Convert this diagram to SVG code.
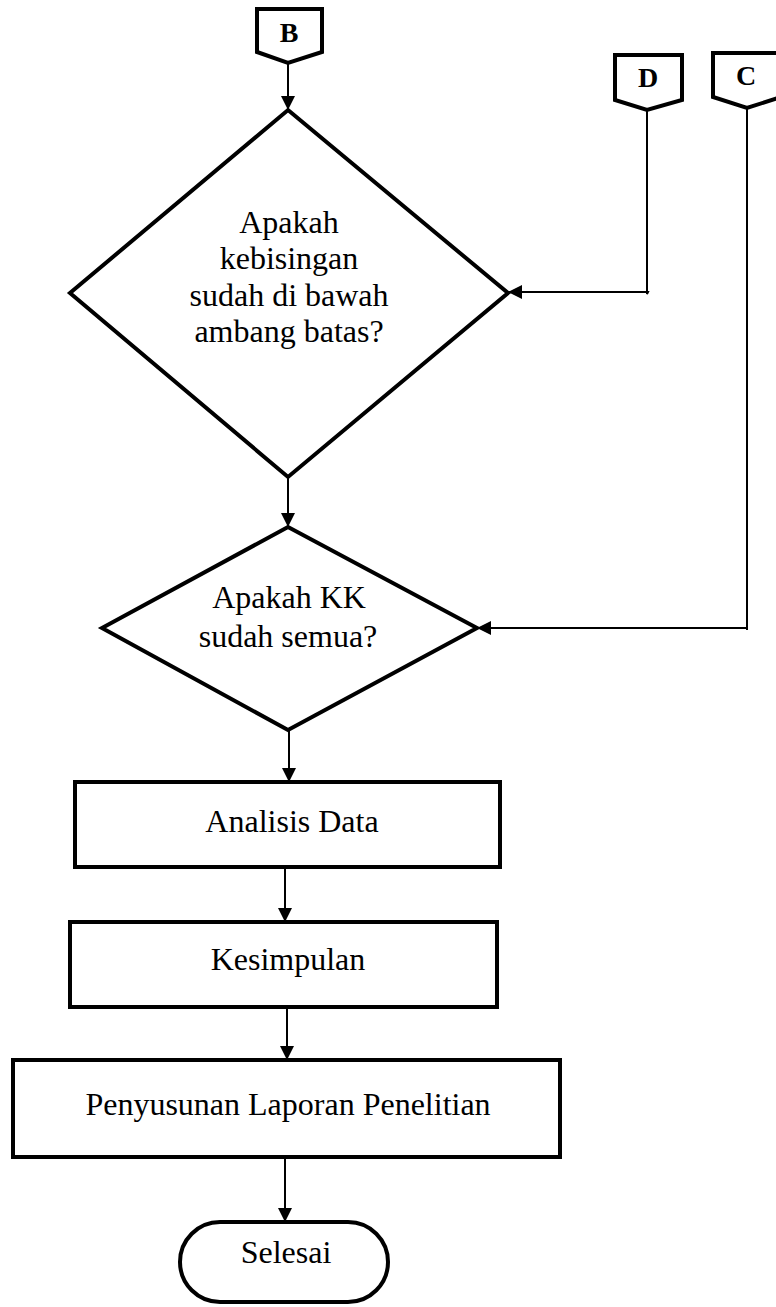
<svg xmlns="http://www.w3.org/2000/svg" width="776" height="1307" viewBox="0 0 776 1307">
<style>
.shape{fill:#fff;stroke:#000;stroke-width:4;stroke-linejoin:miter}
.line{fill:none;stroke:#000;stroke-width:2}
.t{font-family:"Liberation Serif","Times New Roman",serif;font-size:32px;fill:#000;text-anchor:middle}
.b{font-family:"Liberation Serif","Times New Roman",serif;font-size:28px;font-weight:bold;fill:#000;text-anchor:middle}
</style>
<defs>
<marker id="arr" markerWidth="14" markerHeight="14" refX="14" refY="7" orient="auto" markerUnits="userSpaceOnUse">
<path d="M0,0 L14,7 L0,14 Z" fill="#000"/>
</marker>
</defs>
<g id="connectors">
<line class="line" x1="288" y1="63" x2="288" y2="110" marker-end="url(#arr)"/>
<polyline class="line" points="647,110 647,294 648,292 508,292" marker-end="url(#arr)"/>
<line class="line" x1="288" y1="477" x2="288" y2="527" marker-end="url(#arr)"/>
<polyline class="line" points="747,108 747,630 747,628 477,628" marker-end="url(#arr)"/>
<line class="line" x1="289" y1="730" x2="289" y2="782" marker-end="url(#arr)"/>
<line class="line" x1="285" y1="867" x2="285" y2="922" marker-end="url(#arr)"/>
<line class="line" x1="287" y1="1007" x2="287" y2="1060" marker-end="url(#arr)"/>
<line class="line" x1="285" y1="1157" x2="285" y2="1222" marker-end="url(#arr)"/>
</g>
<g id="conn-B">
<polygon class="shape" points="257,9 322,9 322,52 288,63 257,52"/>
<text class="b" x="289" y="42">B</text>
</g>
<g id="conn-D">
<polygon class="shape" points="615,55 682,55 682,100 647,110 615,100"/>
<text class="b" x="648" y="87">D</text>
</g>
<g id="conn-C">
<polygon class="shape" points="713,53 781,53 781,97 747,108 713,97"/>
<text class="b" x="746" y="85">C</text>
</g>
<g id="decision-1">
<polygon class="shape" points="288,110 508,293 288,477 70,293"/>
<text class="t" x="289" y="233">Apakah</text>
<text class="t" x="289" y="269">kebisingan</text>
<text class="t" x="289" y="306">sudah di bawah</text>
<text class="t" x="289" y="342">ambang batas?</text>
</g>
<g id="decision-2">
<polygon class="shape" points="288,527 477,628 288,730 102,628"/>
<text class="t" x="289" y="608">Apakah KK</text>
<text class="t" x="288" y="647">sudah semua?</text>
</g>
<g id="analisis">
<rect class="shape" x="75" y="782" width="425" height="85"/>
<text class="t" x="292" y="832">Analisis Data</text>
</g>
<g id="kesimpulan">
<rect class="shape" x="70" y="922" width="427" height="85"/>
<text class="t" x="288" y="970">Kesimpulan</text>
</g>
<g id="penyusunan">
<rect class="shape" x="13" y="1060" width="547" height="97"/>
<text class="t" x="288" y="1115">Penyusunan Laporan Penelitian</text>
</g>
<g id="selesai">
<rect class="shape" x="180" y="1222" width="208" height="80" rx="40" ry="40"/>
<text class="t" x="286" y="1263">Selesai</text>
</g>
</svg>
